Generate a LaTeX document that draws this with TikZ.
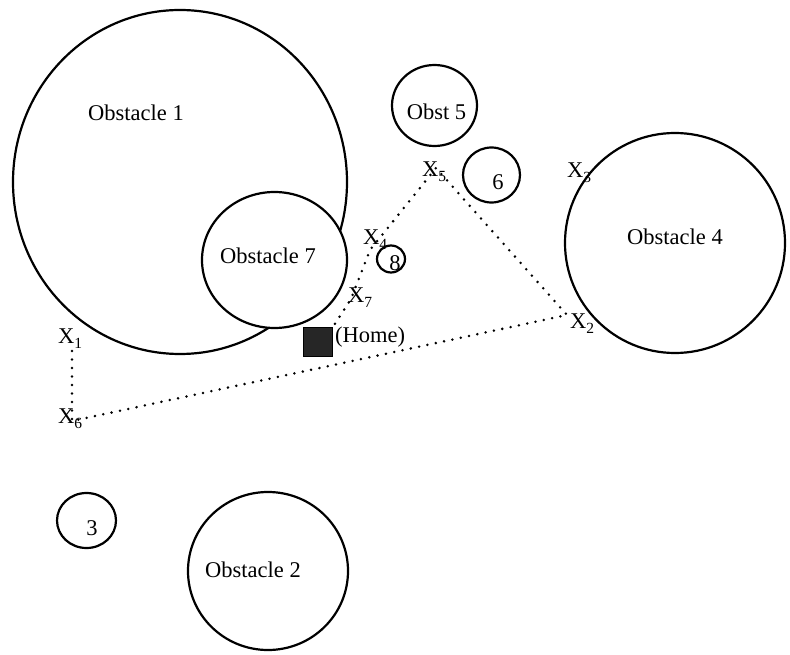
\documentclass[tikz,border=0pt]{standalone}
\usepackage{fontspec}
\setmainfont{Liberation Serif}
\usetikzlibrary{shapes.geometric}

% waypoint label: X with a lowered index
\newcommand\wpname[1]{X\raisebox{-5pt}{\fontsize{15.5pt}{16pt}\selectfont #1}}

\begin{document}
\begin{tikzpicture}[x=1pt,y=-1pt,
  obstacle/.style={draw, ellipse, line width=2.2pt, fill=white, inner sep=0pt},
  lbl/.style={font=\fontsize{22.5pt}{24pt}\selectfont, inner sep=0pt, anchor=base},
  wlbl/.style={font=\fontsize{22.5pt}{24pt}\selectfont, inner sep=0pt, anchor=base west},
  route/.style={line width=2.8pt, line cap=round, dash pattern=on 0pt off 8.5pt}]
\useasboundingbox (0,0) rectangle (790,655);

% obstacles (Obstacle 7 drawn after Obstacle 1 so it covers its rim)
\node[obstacle, minimum width=334, minimum height=344] (ob1) at (180,182) {};
\node[obstacle, minimum width=145, minimum height=136] (ob7) at (274.5,260) {};
\node[obstacle, minimum width=85, minimum height=81] (ob5) at (434.5,105.5) {};
\node[obstacle, minimum width=57, minimum height=55] (ob6) at (491.5,175) {};
\node[obstacle, minimum width=220, minimum height=220] (ob4) at (675,243) {};
\node[obstacle, minimum width=28, minimum height=27] (ob8) at (391,259) {};
\node[obstacle, minimum width=59, minimum height=55] (ob3) at (86.5,520.5) {};
\node[obstacle, minimum width=160, minimum height=158] (ob2) at (268,571) {};

% obstacle names
\node[lbl] (t1) at (136,121) {Obstacle 1};
\node[lbl] (t7) at (268,263) {Obstacle 7};
\node[lbl] (t5) at (436.5,120) {Obst 5};
\node[lbl] (t6) at (498,190) {6};
\node[lbl] (t4) at (675,245) {Obstacle 4};
\node[lbl] (t8) at (395,271) {8};
\node[lbl] (t3) at (92,535) {3};
\node[lbl] (t2) at (253,577) {Obstacle 2};

% home position
\node[draw=black, fill=black!85, minimum size=29pt, inner sep=0pt] (home) at (318,342) {};
\node[wlbl] (homet) at (335,342) {(Home)};

% waypoints of the route
\coordinate (w1) at (72,351);
\coordinate (w6) at (72,421);
\coordinate (w2) at (567,315);
\coordinate (w5) at (436,168);
\coordinate (w4) at (370,250);
\coordinate (w7) at (351,299);

\draw[route] (w1) -- (w6) -- (w2) -- (w5) -- (w4) -- (w7) -- (home.north east);

% waypoint labels
\node[wlbl] (x1) at (58,343) {\wpname{1}};
\node[wlbl] (x6) at (58,423) {\wpname{6}};
\node[wlbl] (x2) at (570,328) {\wpname{2}};
\node[wlbl] (x3) at (567,178) {\wpname{3}};
\node[wlbl] (x5) at (422,177) {\wpname{5}};
\node[wlbl] (x4) at (363,245) {\wpname{4}};
\node[wlbl] (x7) at (348,302) {\wpname{7}};
\end{tikzpicture}
\end{document}
